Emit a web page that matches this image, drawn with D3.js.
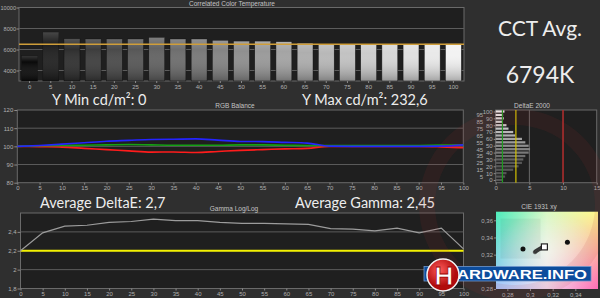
<!DOCTYPE html>
<html>
<head>
<meta charset="utf-8">
<script src="https://d3js.org/d3.v7.min.js"></script>
<style>
  body { margin: 0; background: #2f2f2f; }
  svg { display: block; }
  .ax text { fill: #b0b0b0; font: 6px "Liberation Sans", Arial, sans-serif; }
  .ax line { stroke: #8a8a8a; }
  .ax path { display: none; }
  .ttl { fill: #c4c4c4; font: 6.5px "Liberation Sans", Arial, sans-serif; text-anchor: middle; }
  .big { fill: #ededed; font-family: Lato, "Open Sans", sans-serif; }
</style>
</head>
<body>
<svg width="600" height="298"></svg>
<script>
// grayscale levels (%)
const levels = [0,5,10,15,20,25,30,35,40,45,50,55,60,65,70,75,80,85,90,95,100];
// correlated colour temperature per level (K)
const cct = [5400,7650,7020,7000,7000,7000,7150,7000,7000,6870,6800,6800,6740,6600,6520,6520,6520,6520,6520,6540,6540];
const cctTarget = 6500;
// RGB balance (%)
const rgbRed   = [100,99.8,99.6,98.9,98.2,97.5,96.8,96.9,96.6,97.2,97.8,98.2,98.6,98.9,100,100,100,100,100,99.7,99.2];
const rgbGreen = [100,100.3,100.5,100.6,100.8,101,100.8,100.6,100.6,100.6,100.8,100.8,100.6,100.5,100.4,100.4,100.4,100.4,100.5,100.7,100.8];
const rgbBlue  = [100,100.5,101.2,102,102.8,103.3,103.8,103.9,104.1,103.4,102.7,102.6,102.2,101.8,100.1,100,100,100,100,100.1,100.8];
// gamma per level
const gamma = [2.2,2.39,2.46,2.47,2.5,2.51,2.535,2.52,2.52,2.5,2.49,2.49,2.485,2.48,2.435,2.43,2.41,2.44,2.39,2.44,2.22];
const gammaTarget = 2.2;
// deltaE 2000 per level
const deltaE = [1.1,1.4,1.6,2.6,3.4,3.9,4.1,4.4,4.9,5.1,4.9,4.4,3.9,2.9,2.6,1.9,1.6,1.0,1.2,1.1,1.3];
const deltaEMarks = [{v:1, c:'#1f9a1f'}, {v:3, c:'#d2c000'}, {v:10, c:'#c21a1a'}];
// CIE 1931 xy
const cieX = [0.3044,0.3054,0.3066,0.3079,0.3092,0.3104,0.3114];
const cieY = [0.3230,0.3242,0.3252,0.3262,0.3272,0.3282,0.3290];
const cieDots = [[0.2938,0.3266],[0.333,0.3344]];
const whitePoint = [0.3127,0.3290];

const svg = d3.select('svg');
const defs = svg.append('defs');
const comma = d => String(d).replace('.', ',');
const gray = l => { const v = Math.round(10 + 232 * Math.pow(l / 100, 0.8)); return d3.rgb(v, v, v).toString(); };

function frame(x0, y0, x1, y1) {
  svg.append('rect').attr('x', x0).attr('y', y0).attr('width', x1 - x0).attr('height', y1 - y0)
    .attr('fill', '#1f1f1f').attr('stroke', '#6a6a6a').attr('stroke-width', 1);
}
function hgrid(scale, vals, x0, x1) {
  svg.append('g').selectAll('line').data(vals).join('line')
    .attr('x1', x0).attr('x2', x1).attr('y1', d => scale(d)).attr('y2', d => scale(d))
    .attr('stroke', '#5c5c5c');
}

// bar shading
const sh = defs.append('linearGradient').attr('id', 'shade').attr('x1', 0).attr('x2', 0).attr('y1', 0).attr('y2', 1);
sh.append('stop').attr('offset', '0%').attr('stop-color', '#fff').attr('stop-opacity', 0.18);
sh.append('stop').attr('offset', '25%').attr('stop-color', '#fff').attr('stop-opacity', 0);
sh.append('stop').attr('offset', '100%').attr('stop-color', '#000').attr('stop-opacity', 0.3);

// ---------- CCT ----------
const xC = d3.scaleBand().domain(levels).range([19, 464]).paddingInner(0.25).paddingOuter(0.125);
const yC = d3.scaleLinear().domain([3000, 10000]).range([81, 7.5]);
frame(19, 7.5, 464, 81);
hgrid(yC, [4000, 6000, 8000], 19, 464);
const bars = svg.append('g');
bars.selectAll('rect.b').data(levels).join('rect').attr('class', 'b')
  .attr('x', d => xC(d)).attr('width', xC.bandwidth())
  .attr('y', (d, i) => yC(cct[i])).attr('height', (d, i) => 81 - yC(cct[i]))
  .attr('fill', d => gray(d)).attr('stroke', '#111').attr('stroke-width', 0.5);
bars.selectAll('rect.s').data(levels).join('rect').attr('class', 's')
  .attr('x', d => xC(d)).attr('width', xC.bandwidth())
  .attr('y', (d, i) => yC(cct[i])).attr('height', (d, i) => 81 - yC(cct[i]))
  .attr('fill', 'url(#shade)');
svg.append('line').attr('x1', 19).attr('x2', 464).attr('y1', yC(cctTarget)).attr('y2', yC(cctTarget))
  .attr('stroke', '#cf9e3a').attr('stroke-width', 1.3);
svg.append('g').attr('class', 'ax').attr('transform', 'translate(19,0)')
  .call(d3.axisLeft(yC).tickValues([4000, 6000, 8000, 10000]).tickSize(2.5).tickPadding(0.5).tickFormat(d3.format('d')))
  .selectAll('text').style('font-size', '5.6px');
svg.append('g').attr('class', 'ax').attr('transform', 'translate(0,81)')
  .call(d3.axisBottom(xC).tickSize(2).tickPadding(1.5));
svg.append('text').attr('class', 'ttl').attr('x', 232).attr('y', 5.5).text('Correlated Color Temperature');
svg.append('text').attr('class', 'big').attr('x', 540).attr('y', 36).attr('text-anchor', 'middle')
  .attr('font-size', 21).text('CCT Avg.');
svg.append('text').attr('class', 'big').attr('x', 540).attr('y', 82.5).attr('text-anchor', 'middle')
  .attr('font-size', 23).text('6794K');

// ---------- RGB balance ----------
const xR = d3.scaleLinear().domain([0, 100]).range([17.3, 463.3]);
const yR = d3.scaleLinear().domain([80, 120]).range([182.7, 110]);
frame(17.3, 110, 463.3, 182.7);
hgrid(yR, [90, 100, 110], 17.3, 463.3);
const lineR = d3.line().x((d, i) => xR(levels[i])).y(d => yR(d)).curve(d3.curveMonotoneX);
[[rgbRed, '#ff1c1c'], [rgbGreen, '#14a014'], [rgbBlue, '#2424ff']].forEach(([s, c]) => {
  svg.append('path').attr('d', lineR(s)).attr('fill', 'none').attr('stroke', c).attr('stroke-width', 1.6);
});
svg.append('g').attr('class', 'ax').attr('transform', 'translate(17.3,0)')
  .call(d3.axisLeft(yR).tickValues([80, 90, 100, 110, 120]).tickSize(3).tickPadding(1));
svg.append('g').attr('class', 'ax').attr('transform', 'translate(0,182.7)')
  .call(d3.axisBottom(xR).tickValues(levels).tickSize(2).tickPadding(1.5));
svg.append('text').attr('class', 'ttl').attr('x', 235).attr('y', 108).text('RGB Balance');
svg.append('text').attr('class', 'big').attr('x', 52).attr('y', 105).attr('font-size', 14.5).text('Y Min cd/m²: 0');
svg.append('text').attr('class', 'big').attr('x', 302).attr('y', 105).attr('font-size', 14.5).text('Y Max cd/m²: 232,6');

// ---------- DeltaE 2000 ----------
const xD = d3.scaleLinear().domain([0, 15]).range([495.7, 596.7]);
const yD = d3.scaleLinear().domain([0, 100]).range([180, 111.5]);
frame(495.7, 110, 596.7, 182.7);
svg.append('g').selectAll('line').data([5, 10]).join('line')
  .attr('x1', d => xD(d)).attr('x2', d => xD(d)).attr('y1', 110).attr('y2', 182.7).attr('stroke', '#6a6a6a');
svg.append('g').selectAll('rect').data(levels).join('rect')
  .attr('x', xD(0)).attr('y', d => yD(d) - 1.1).attr('height', 2.2)
  .attr('width', (d, i) => xD(deltaE[i]) - xD(0))
  .attr('fill', d => gray(Math.max(d, 25)));
svg.append('g').selectAll('line').data(deltaEMarks).join('line')
  .attr('x1', d => xD(d.v)).attr('x2', d => xD(d.v)).attr('y1', 110).attr('y2', 182.7)
  .attr('stroke', d => d.c).attr('stroke-width', 1.2);
svg.append('g').attr('class', 'ax').attr('transform', 'translate(495.7,0)')
  .call(d3.axisLeft(yD).tickValues(levels.filter(d => d % 10 === 0)).tickSize(2).tickPadding(1));
svg.append('g').attr('class', 'ax').attr('transform', 'translate(495.7,0)')
  .call(d3.axisLeft(yD).tickValues(levels.filter(d => d % 10 === 5)).tickSize(0).tickPadding(12.5));
svg.append('g').attr('class', 'ax').attr('transform', 'translate(0,182.7)')
  .call(d3.axisBottom(xD).tickValues([0, 5, 10, 15]).tickSize(2).tickPadding(1.5));
svg.append('text').attr('class', 'ttl').attr('x', 532).attr('y', 108).text('DeltaE 2000');

// ---------- Gamma ----------
const xG = d3.scaleLinear().domain([0, 100]).range([20.5, 463.5]);
const yG = d3.scaleLinear().domain([1.8, 2.6]).range([288.5, 213]);
frame(20.5, 213, 463.5, 288.5);
hgrid(yG, [2, 2.2, 2.4], 20.5, 463.5);
svg.append('line').attr('x1', 20.5).attr('x2', 463.5).attr('y1', yG(gammaTarget)).attr('y2', yG(gammaTarget))
  .attr('stroke', '#f2f000').attr('stroke-width', 1.8);
svg.append('path').attr('d', d3.line().x((d, i) => xG(levels[i])).y(d => yG(d))(gamma))
  .attr('fill', 'none').attr('stroke', '#9c9c9c').attr('stroke-width', 1.2);
svg.append('g').attr('class', 'ax').attr('transform', 'translate(20.5,0)')
  .call(d3.axisLeft(yG).tickValues([1.8, 2, 2.2, 2.4]).tickSize(3).tickPadding(1).tickFormat(comma));
svg.append('g').attr('class', 'ax').attr('transform', 'translate(0,288.5)')
  .call(d3.axisBottom(xG).tickValues(levels).tickSize(2).tickPadding(1.5));
svg.append('text').attr('class', 'ttl').attr('x', 234).attr('y', 211).text('Gamma Log/Log');
svg.append('text').attr('class', 'big').attr('x', 40).attr('y', 207.5).attr('font-size', 14.5).text('Average DeltaE: 2,7');
svg.append('text').attr('class', 'big').attr('x', 295).attr('y', 207.5).attr('font-size', 14.5).text('Average Gamma: 2,45');

// ---------- CIE 1931 xy ----------
const xX = d3.scaleLinear().domain([0.27, 0.36]).range([496, 598]);
const yX = d3.scaleLinear().domain([0.28, 0.37]).range([289, 211.7]);
function hgrad(id, cols) {
  const g = defs.append('linearGradient').attr('id', id);
  cols.forEach((c, i) => g.append('stop').attr('offset', (i / (cols.length - 1) * 100) + '%').attr('stop-color', c));
}
hgrad('cieTop', ['#4eeeba', '#d8fac4', '#fff88a']);
hgrad('cieBot', ['#a6c6ff', '#f2dcf2', '#ff6cb6']);
const vm = defs.append('linearGradient').attr('id', 'vfade').attr('x1', 0).attr('x2', 0).attr('y1', 0).attr('y2', 1);
vm.append('stop').attr('offset', '0%').attr('stop-color', '#fff').attr('stop-opacity', 0);
vm.append('stop').attr('offset', '100%').attr('stop-color', '#fff').attr('stop-opacity', 1);
defs.append('mask').attr('id', 'cieMask').attr('maskContentUnits', 'objectBoundingBox')
  .append('rect').attr('width', 1).attr('height', 1).attr('fill', 'url(#vfade)');
const rg = defs.append('radialGradient').attr('id', 'cieMid');
rg.append('stop').attr('offset', '0%').attr('stop-color', '#fff').attr('stop-opacity', 0.45);
rg.append('stop').attr('offset', '100%').attr('stop-color', '#fff').attr('stop-opacity', 0);
const cw = xX(0.36) - xX(0.27), ch = yX(0.28) - yX(0.37);
svg.append('rect').attr('x', xX(0.27)).attr('y', yX(0.37)).attr('width', cw).attr('height', ch).attr('fill', 'url(#cieTop)');
svg.append('rect').attr('x', xX(0.27)).attr('y', yX(0.37)).attr('width', cw).attr('height', ch).attr('fill', 'url(#cieBot)').attr('mask', 'url(#cieMask)');
svg.append('rect').attr('x', xX(0.27)).attr('y', yX(0.37)).attr('width', cw).attr('height', ch).attr('fill', 'url(#cieMid)');
svg.append('rect').attr('x', xX(0.274)).attr('y', yX(0.362)).attr('width', 40).attr('height', 40)
  .attr('fill', '#000').attr('opacity', 0.05);
svg.append('path').attr('d', d3.line().x((d, i) => xX(d)).y((d, i) => yX(cieY[i]))(cieX))
  .attr('fill', 'none').attr('stroke', '#555').attr('stroke-width', 1.5);
svg.append('g').selectAll('circle').data(cieX).join('circle')
  .attr('cx', d => xX(d)).attr('cy', (d, i) => yX(cieY[i])).attr('r', 1.8)
  .attr('fill', '#444').attr('stroke', '#222').attr('stroke-width', 0.5);
svg.append('rect').attr('x', xX(whitePoint[0]) - 3).attr('y', yX(whitePoint[1]) - 3).attr('width', 6).attr('height', 6)
  .attr('fill', '#fff').attr('stroke', '#222').attr('stroke-width', 1.2);
svg.append('g').selectAll('circle').data(cieDots).join('circle')
  .attr('cx', d => xX(d[0])).attr('cy', d => yX(d[1])).attr('r', 2.5).attr('fill', '#111');
svg.append('g').attr('class', 'ax').attr('transform', 'translate(496,0)')
  .call(d3.axisLeft(yX).tickValues([0.28, 0.32, 0.34, 0.36]).tickSize(2).tickPadding(1).tickFormat(comma));
svg.append('g').attr('class', 'ax').attr('transform', 'translate(0,289)')
  .call(d3.axisBottom(xX).tickValues([0.28, 0.30, 0.32, 0.34]).tickSize(2).tickPadding(1.5).tickFormat(comma));
svg.append('text').attr('class', 'ttl').attr('x', 539).attr('y', 209).text('CIE 1931 xy');

// ---------- watermark & logo ----------
svg.append('circle').attr('cx', 515).attr('cy', 205).attr('r', 88).attr('fill', 'none')
  .attr('stroke', '#b43030').attr('stroke-opacity', 0.1).attr('stroke-width', 16);
svg.append('rect').attr('x', 424).attr('y', 266.5).attr('width', 167).attr('height', 14.5)
  .attr('fill', '#0c4c9c').attr('stroke', '#6f97cc').attr('stroke-width', 0.8);
svg.append('text').attr('x', 457).attr('y', 279).attr('fill', '#fff')
  .attr('font-family', '"Liberation Sans", Arial, sans-serif').attr('font-weight', 'bold').attr('font-size', 13.5)
  .attr('textLength', 130).attr('lengthAdjust', 'spacingAndGlyphs').text('ARDWARE.INFO');
const lg = defs.append('radialGradient').attr('id', 'logoRed').attr('cx', '40%').attr('cy', '35%');
lg.append('stop').attr('offset', '0%').attr('stop-color', '#ff5a5a');
lg.append('stop').attr('offset', '100%').attr('stop-color', '#b00c0c');
svg.append('circle').attr('cx', 443).attr('cy', 275).attr('r', 16).attr('fill', 'url(#logoRed)')
  .attr('stroke', '#f4f4f4').attr('stroke-width', 1.5);
svg.append('text').attr('x', 444).attr('y', 285).attr('text-anchor', 'middle').attr('fill', '#fff')
  .attr('stroke', '#900').attr('stroke-width', 0.8)
  .attr('font-family', '"Liberation Sans", Arial, sans-serif').attr('font-weight', 'bold').attr('font-size', 26).text('H');
</script>
</body>
</html>
